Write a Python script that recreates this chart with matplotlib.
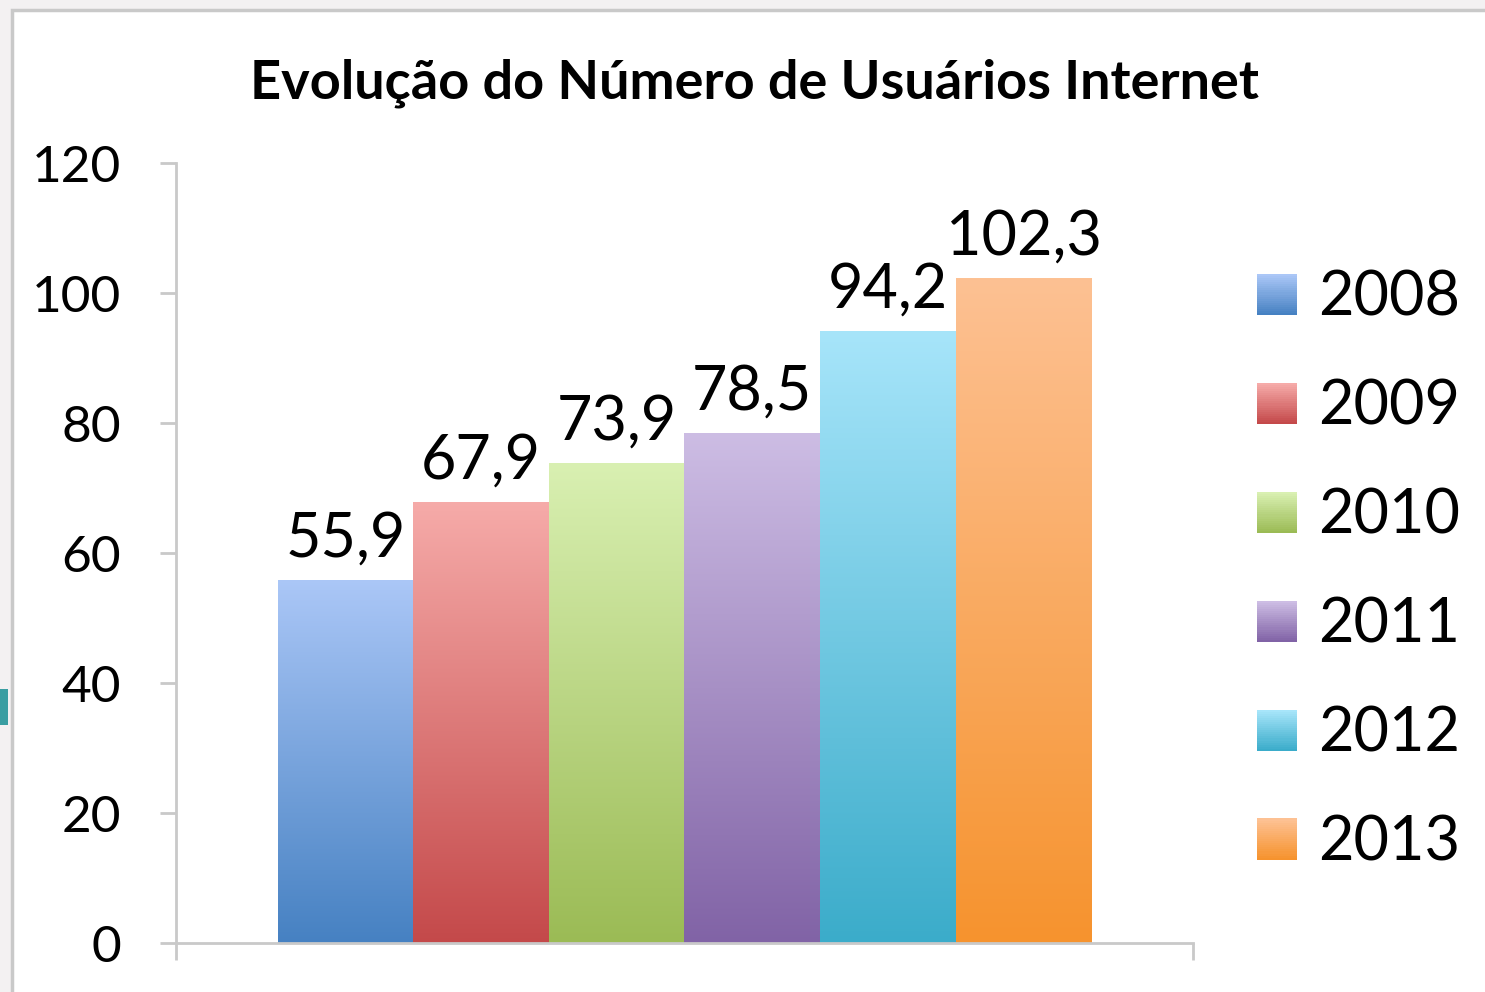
import numpy as np
import matplotlib
matplotlib.use("Agg")
import matplotlib.pyplot as plt
from matplotlib.colors import LinearSegmentedColormap, to_rgb
from matplotlib.patches import Rectangle
from matplotlib.legend_handler import HandlerBase

plt.rcParams["font.family"] = ["Lato", "DejaVu Sans"]

# data
years = ["2008", "2009", "2010", "2011", "2012", "2013"]
users = [55.9, 67.9, 73.9, 78.5, 94.2, 102.3]
labels = ["55,9", "67,9", "73,9", "78,5", "94,2", "102,3"]
top_colors = ["#abc7f7", "#f6aba9", "#d9f0b2", "#cdbde4", "#a7e5fa", "#fdc193"]
bottom_colors = ["#4681c2", "#c4494a", "#9bbb55", "#8163a6", "#3bacca", "#f6932e"]
yticks = [0, 20, 40, 60, 80, 100, 120]

W, H = 1485, 992
fig = plt.figure(figsize=(W / 100, H / 100), dpi=100)
fig.patch.set_facecolor("#f3f1f2")

# chart frame (slide background peeks out at the left/top)
fig.patches.append(Rectangle((12 / W, -0.1), 1.2, 0.1 + 1 - 10 / H,
                             transform=fig.transFigure, facecolor="white",
                             edgecolor="#c9c9c9", linewidth=2.5, zorder=-2))
fig.patches.append(Rectangle((0, 1 - 725 / H), 8 / W, 36 / H,
                             transform=fig.transFigure, facecolor="#3a9ea2",
                             edgecolor="none", zorder=-2))

ax = fig.add_axes([176 / W, 49 / H, 1017 / W, 780 / H])
ax.set_facecolor("none")

x = np.arange(len(years)) + 1.25
bars = ax.bar(x, users, width=1.0, color="none", edgecolor="none")


def gradient_cmap(top, bottom):
    return LinearSegmentedColormap.from_list("g", [to_rgb(bottom), to_rgb(top)])


grad = np.linspace(0, 1, 256).reshape(-1, 1)
for b, tc, bc in zip(bars, top_colors, bottom_colors):
    x0, y0 = b.get_x(), b.get_y()
    im = ax.imshow(grad, cmap=gradient_cmap(tc, bc), origin="lower", aspect="auto",
                   extent=[x0, x0 + b.get_width(), y0, y0 + b.get_height()], zorder=2)
    im.set_clip_path(b)

for xi, v, lab in zip(x, users, labels):
    ax.annotate(lab, (xi, v), xytext=(0, 9), textcoords="offset points",
                ha="center", va="bottom", fontsize=44, color="black")

ax.set_xlim(0, 7.5)
ax.set_ylim(0, 120)
ax.set_yticks(yticks)
ax.set_yticklabels([str(t) for t in yticks], fontsize=37)
ax.set_xticks([0, 7.5])
ax.set_xticklabels([])
ax.tick_params(axis="y", direction="out", length=11.5, width=2, color="#c9c9c9", pad=28)
ax.tick_params(axis="x", direction="out", length=12, width=2, color="#c9c9c9")
for s in ["top", "right"]:
    ax.spines[s].set_visible(False)
for s in ["left", "bottom"]:
    ax.spines[s].set_color("#c9c9c9")
    ax.spines[s].set_linewidth(2)


class GradientHandler(HandlerBase):
    def __init__(self, top, bottom):
        super().__init__()
        self.top = np.array(to_rgb(top))
        self.bottom = np.array(to_rgb(bottom))

    def create_artists(self, legend, orig_handle, xdescent, ydescent, width, height,
                       fontsize, trans):
        n = 20
        arts = []
        for i in range(n):
            c = self.bottom + (self.top - self.bottom) * i / (n - 1)
            arts.append(Rectangle((-xdescent, -ydescent + height * i / n), width,
                                  height / n + 0.3, facecolor=c, edgecolor="none",
                                  transform=trans))
        return arts


handles = [Rectangle((0, 0), 1, 1) for _ in years]
handler_map = {h: GradientHandler(t, b) for h, t, b in zip(handles, top_colors, bottom_colors)}
fig.legend(handles, years, loc="upper left", bbox_to_anchor=(1257 / W, 1 - 270 / H),
           frameon=False, fontsize=44, handlelength=0.65, handleheight=0.65,
           handletextpad=0.35, labelspacing=0.85, handler_map=handler_map,
           borderaxespad=0, borderpad=0)

fig.text(754 / W, 1 - 83 / H, "Evolução do Número de Usuários Internet",
         ha="center", va="center", fontsize=39, fontweight="bold")

fig.savefig("out.png", dpi=100, facecolor=fig.get_facecolor())
